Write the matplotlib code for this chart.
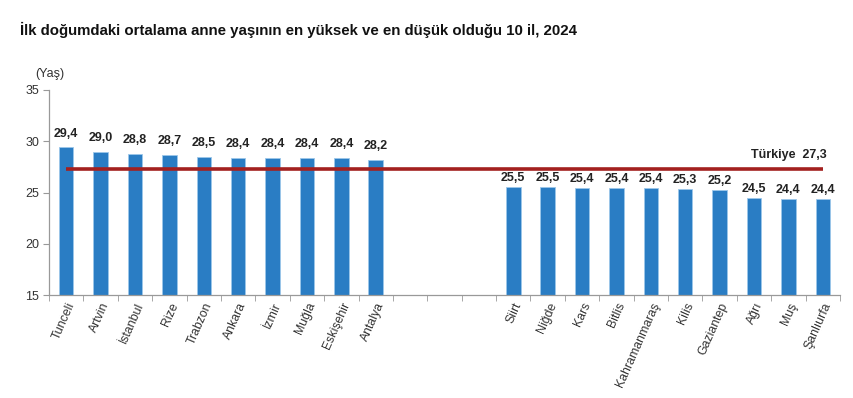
import matplotlib
matplotlib.use("Agg")
import matplotlib.pyplot as plt
import numpy as np

plt.rcParams['font.family'] = ['Liberation Sans', 'DejaVu Sans']

high_provinces = ["Tunceli", "Artvin", "İstanbul", "Rize", "Trabzon", "Ankara", "İzmir", "Muğla", "Eskişehir", "Antalya"]
high_values = [29.4, 29.0, 28.8, 28.7, 28.5, 28.4, 28.4, 28.4, 28.4, 28.2]
low_provinces = ["Siirt", "Niğde", "Kars", "Bitlis", "Kahramanmaraş", "Kilis", "Gaziantep", "Ağrı", "Muş", "Şanlıurfa"]
low_values = [25.5, 25.5, 25.4, 25.4, 25.4, 25.3, 25.2, 24.5, 24.4, 24.4]
gap_slots = 3
turkiye_value = 27.3
yticks = [15, 20, 25, 30, 35]

def fmt(v):
    return f"{v:.1f}".replace(".", ",")

fig = plt.figure(figsize=(8.54, 3.98), dpi=100)
ax = fig.add_axes([49/854, 1-295/398, (840-49)/854, (295-90)/398])

n_high = len(high_provinces)
x_high = np.arange(n_high)
x_low = np.arange(len(low_provinces)) + n_high + gap_slots
n_total = n_high + gap_slots + len(low_provinces)

bar_color = '#2A7DC4'
ax.bar(x_high, [v - 15 for v in high_values], bottom=15, width=0.42, color=bar_color, edgecolor='#9CC7EA', linewidth=0.6, zorder=2)
ax.bar(x_low, [v - 15 for v in low_values], bottom=15, width=0.42, color=bar_color, edgecolor='#9CC7EA', linewidth=0.6, zorder=2)

for x, v in zip(x_high, high_values):
    ax.text(x, v + 0.75, fmt(v), ha='center', va='bottom', fontsize=9, fontweight='bold', color='#222222')
for x, v in zip(x_low, low_values):
    ax.text(x, v + 0.3, fmt(v), ha='center', va='bottom', fontsize=9, fontweight='bold', color='#222222')

ax.plot([x_high[0], x_low[-1]], [turkiye_value, turkiye_value], color='#A3201F', linewidth=2.6, zorder=3, solid_capstyle='butt')
ax.text(x_low[-1] - 1.0, turkiye_value + 0.8, "Türkiye  " + fmt(turkiye_value), ha='center', va='bottom',
        fontsize=9, fontweight='bold', color='#222222')

ax.set_xlim(-0.5, n_total - 0.5)
ax.set_ylim(15, 35)
ax.set_yticks(yticks)
ax.set_yticklabels([str(t) for t in yticks], fontsize=9, color='#333333')

ax.set_xticks(list(x_high) + list(x_low))
ax.set_xticklabels(high_provinces + low_provinces, rotation=66, ha='right', rotation_mode='anchor',
                   fontsize=8.8, color='#333333')
ax.tick_params(axis='x', length=0, pad=4)
ax.set_xticks(np.arange(n_total + 1) - 0.5, minor=True)
ax.tick_params(axis='x', which='minor', length=4, color='#999999', direction='out')
ax.tick_params(axis='y', length=4, color='#999999', direction='out', pad=3)

for s in ['top', 'right']:
    ax.spines[s].set_visible(False)
for s in ['left', 'bottom']:
    ax.spines[s].set_color('#999999')
    ax.spines[s].set_linewidth(0.9)

fig.text(35/854, 1-74/398, "(Yaş)", fontsize=9, color='#333333', va='center', ha='left')
fig.text(20/854, 1-30/398, "İlk doğumdaki ortalama anne yaşının en yüksek ve en düşük olduğu 10 il, 2024",
         fontsize=10.8, fontweight='bold', va='center', ha='left', color='#111111')

fig.savefig("out.png", dpi=100)
